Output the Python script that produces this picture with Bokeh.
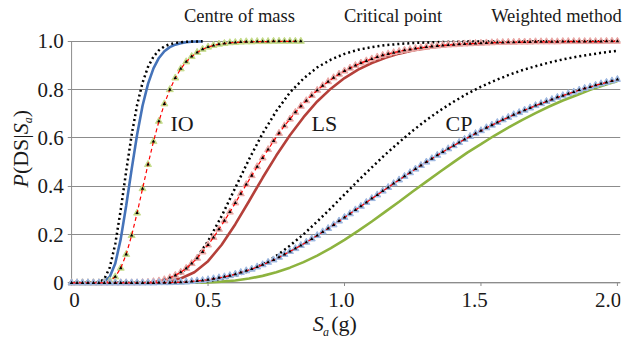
import math
from bokeh.plotting import figure
from bokeh.layouts import column, row
from bokeh.models import Range1d, FixedTicker, Grid, Label, Legend, LegendItem
from bokeh.embed import file_html
from bokeh.resources import INLINE

# ---------------- data ----------------
x_ticks = [0, 0.5, 1.0, 1.5, 2.0]
x_tick_labels = ["0", "0.5", "1.0", "1.5", "2.0"]
y_ticks = [0, 0.2, 0.4, 0.6, 0.8, 1.0]
y_tick_labels = ["0", "0.2", "0.4", "0.6", "0.8", "1.0"]

state_labels = ["IO", "LS", "CP"]
state_label_x = [0.362, 0.879, 1.370]     # left edge of each label (Sa, g)
state_label_y = [0.658, 0.658, 0.658]     # vertical centre (probability)

# Sa sample positions (g)
sa_io = [round(0.02 * i, 2) for i in range(25)]        # 0 .. 0.48
sa_io_w = [round(0.02 * i, 2) for i in range(43)]      # 0 .. 0.84
sa_line = [round(0.05 * i, 2) for i in range(41)]      # 0 .. 2.0
sa_w = [round(0.02 * i, 2) for i in range(101)]        # 0 .. 2.0

# IO
io_centre = [0, 0, 0, 0, 0, 0, 0.005, 0.025, 0.080, 0.181,
             0.319, 0.470, 0.613, 0.733, 0.824, 0.888, 0.931, 0.959, 0.976, 0.986,
             0.992, 0.996, 0.998, 0.999, 0.999]
io_critical = [0, 0, 0, 0, 0, 0.002, 0.016, 0.064, 0.161, 0.302,
               0.462, 0.612, 0.736, 0.829, 0.894, 0.936, 0.963, 0.979, 0.988, 0.993,
               0.996, 0.998, 0.999, 0.999, 1.0]
io_weighted = [0, 0, 0, 0, 0, 0, 0.002, 0.008, 0.025, 0.061,
               0.118, 0.196, 0.289, 0.390, 0.490, 0.585, 0.669, 0.741, 0.800, 0.848,
               0.886, 0.915, 0.937, 0.954, 0.967, 0.976, 0.983, 0.988, 0.991, 0.994,
               0.995, 0.997, 0.998, 0.998, 0.999, 0.999, 0.999, 1.0, 1.0, 1.0,
               1.0, 1.0, 1.0]

# LS
ls_centre = [0, 0, 0, 0, 0, 0, 0.001, 0.006, 0.018, 0.044,
             0.090, 0.158, 0.243, 0.338, 0.435, 0.527, 0.611, 0.686, 0.751, 0.804,
             0.848, 0.883, 0.910, 0.932, 0.949, 0.962, 0.971, 0.979, 0.984, 0.988,
             0.991, 0.994, 0.995, 0.997, 0.997, 0.998, 0.999, 0.999, 0.999, 0.999,
             1.0]
ls_critical = [0, 0, 0, 0, 0, 0, 0.002, 0.012, 0.038, 0.091,
               0.173, 0.277, 0.394, 0.511, 0.619, 0.711, 0.788, 0.846, 0.892, 0.924,
               0.948, 0.965, 0.976, 0.984, 0.989, 0.993, 0.995, 0.997, 0.998, 0.999,
               0.999, 1.0, 1.0, 1.0, 1.0, 1.0, 1.0, 1.0, 1.0, 1.0,
               1.0]
ls_weighted = [0, 0, 0, 0, 0, 0, 0, 0, 0, 0,
               0, 0, 0, 0.001, 0.002, 0.005, 0.008, 0.013, 0.021, 0.031,
               0.044, 0.060, 0.080, 0.102, 0.128, 0.157, 0.188, 0.222, 0.257, 0.293,
               0.331, 0.369, 0.407, 0.444, 0.481, 0.517, 0.552, 0.587, 0.619, 0.650,
               0.678, 0.706, 0.731, 0.754, 0.776, 0.797, 0.816, 0.833, 0.849, 0.864,
               0.877, 0.889, 0.900, 0.910, 0.919, 0.927, 0.935, 0.942, 0.948, 0.953,
               0.958, 0.963, 0.966, 0.970, 0.973, 0.976, 0.979, 0.981, 0.983, 0.985,
               0.986, 0.988, 0.989, 0.990, 0.991, 0.992, 0.993, 0.994, 0.995, 0.995,
               0.996, 0.996, 0.997, 0.997, 0.997, 0.998, 0.998, 0.998, 0.998, 0.998,
               0.999, 0.999, 0.999, 0.999, 0.999, 0.999, 0.999, 0.999, 1.0, 1.0,
               1.0]

# CP
cp_centre = [0, 0, 0, 0, 0, 0, 0, 0, 0.000, 0.001,
             0.002, 0.005, 0.010, 0.018, 0.029, 0.044, 0.063, 0.086, 0.113, 0.144,
             0.178, 0.215, 0.254, 0.295, 0.336, 0.378, 0.419, 0.460, 0.500, 0.539,
             0.574, 0.610, 0.643, 0.674, 0.703, 0.730, 0.755, 0.777, 0.799, 0.818,
             0.836]
cp_critical = [0, 0, 0, 0, 0, 0, 0, 0.000, 0.001, 0.003,
               0.007, 0.016, 0.029, 0.049, 0.077, 0.112, 0.154, 0.201, 0.254, 0.309,
               0.366, 0.423, 0.478, 0.532, 0.582, 0.630, 0.674, 0.714, 0.750, 0.783,
               0.812, 0.837, 0.860, 0.880, 0.897, 0.912, 0.925, 0.936, 0.945, 0.954,
               0.961]
cp_weighted = [0, 0, 0, 0, 0, 0, 0, 0, 0, 0,
               0, 0, 0, 0, 0, 0.000, 0.001, 0.001, 0.001, 0.002,
               0.003, 0.004, 0.006, 0.008, 0.010, 0.013, 0.017, 0.021, 0.025, 0.030,
               0.036, 0.043, 0.050, 0.057, 0.066, 0.075, 0.085, 0.095, 0.106, 0.118,
               0.130, 0.142, 0.155, 0.168, 0.182, 0.196, 0.211, 0.225, 0.240, 0.256,
               0.271, 0.286, 0.302, 0.317, 0.333, 0.349, 0.364, 0.380, 0.395, 0.411,
               0.426, 0.441, 0.456, 0.471, 0.486, 0.500, 0.514, 0.528, 0.542, 0.555,
               0.568, 0.581, 0.594, 0.606, 0.618, 0.630, 0.642, 0.653, 0.664, 0.675,
               0.685, 0.696, 0.705, 0.715, 0.724, 0.734, 0.742, 0.751, 0.759, 0.768,
               0.775, 0.783, 0.790, 0.798, 0.805, 0.811, 0.818, 0.824, 0.830, 0.836,
               0.842]

# ---------------- styling ----------------
FONT = "'Liberation Serif', 'Times New Roman', serif"
TXT = "#1a1a1a"
GRID = "#8c8c8c"
BLUE = "#4573B9"
RED = "#B5403A"
GREEN = "#8DB33F"
DASH_RED = "#FF0000"
HALO = {"IO": "#C5DC8A", "LS": "#EBA8A6", "CP": "#9DB7E0"}
SOLID = dict(line_width=2.6)
DOTTED = dict(line_color="black", line_width=2.5, line_dash="2 3")
DASHED = dict(line_color=DASH_RED, line_width=1.2, line_dash="4 3")
TICK_PX = 21

# geometry (pixels in the 630 x 340 picture)
LEFT_W = 64                                   # width of the left strip
FRAME_L, FRAME_R, FRAME_T, FRAME_B = 67, 620, 28, 286
X_START, X_END = -0.015, 2.0113
Y_START, Y_END = -0.015, 1.053
XS = (FRAME_R - FRAME_L) / (X_END - X_START)          # px per g
YS = (FRAME_B - FRAME_T) / (Y_END - Y_START)          # px per unit probability
X0_PX = FRAME_L - X_START * XS                         # pixel of Sa = 0
Y0_PX = FRAME_B + Y_START * YS                         # pixel of P = 0


def px_to_x(px):
    return (px - X0_PX) / XS


def py_to_y(py):
    return (Y0_PX - py) / YS


def text_w(s, size):
    return sum(0.25 if c == "." else 0.5 for c in s) * size


def blank(width, height, xr, yr):
    f = figure(width=width, height=height, output_backend="svg", toolbar_location=None,
               x_range=Range1d(*xr), y_range=Range1d(*yr),
               x_axis_type=None, y_axis_type=None, min_border=0)
    f.outline_line_color = None
    f.grid.visible = False
    return f


def label(fig, x, y, t, size, style="normal", angle=0.0):
    fig.add_layout(Label(x=x, y=y, text=t, angle=angle, text_font=FONT,
                         text_font_size=f"{size}px", text_font_style=style,
                         text_color=TXT, text_align="left",
                         text_baseline="middle"))


# ---------------- main plot area ----------------
p = figure(width=630 - LEFT_W, height=FRAME_B - FRAME_T,
           output_backend="svg", toolbar_location=None,
           x_range=Range1d(X_START, X_END), y_range=Range1d(Y_START, Y_END),
           x_axis_type=None, y_axis_type=None, min_border=0,
           min_border_left=FRAME_L - LEFT_W, min_border_right=630 - FRAME_R)
p.outline_line_color = None
p.add_layout(Grid(dimension=1, ticker=FixedTicker(ticks=y_ticks),
                  grid_line_color=GRID, grid_line_width=1))
# axis lines and x tick marks
p.segment(x0=[0], y0=[y_ticks[0]], x1=[0], y1=[y_ticks[-1]], line_color=GRID, line_width=1)
p.segment(x0=[x_ticks[0]], y0=[0], x1=[X_END], y1=[0], line_color=GRID, line_width=1)
p.segment(x0=x_ticks, y0=[0] * len(x_ticks), x1=x_ticks, y1=[Y_START] * len(x_ticks),
          line_color=GRID, line_width=1)

for t, x, y in zip(state_labels, state_label_x, state_label_y):
    label(p, x, y, t, 22)

# Centre of mass (solid)
p.line(sa_io, io_centre, line_color=BLUE, **SOLID)
p.line(sa_line, ls_centre, line_color=RED, **SOLID)
p.line(sa_line, cp_centre, line_color=GREEN, **SOLID)

# Critical point (dotted)
p.line(sa_io, io_critical, **DOTTED)
p.line(sa_line, ls_critical, **DOTTED)
p.line(sa_line, cp_critical, **DOTTED)

# Weighted method (red dashed + triangles)
for name, xs, ys in [("IO", sa_io_w, io_weighted), ("LS", sa_w, ls_weighted),
                     ("CP", sa_w, cp_weighted)]:
    p.scatter(xs, ys, marker="triangle", size=7, fill_color=HALO[name],
              line_color=HALO[name])
    p.line(xs, ys, **DASHED)
    p.scatter(xs, ys, marker="triangle", size=3.5, fill_color="black", line_color=None)

# ---------------- legend strip ----------------
lg = blank(630, FRAME_T, (0, 630), (FRAME_T, 0))
lr_c = lg.line([], [], line_color=BLUE, **SOLID)
lr_k = lg.line([], [], **DOTTED)
lr_wh = lg.scatter([], [], marker="triangle", size=7, fill_color=HALO["CP"],
                   line_color=HALO["CP"])
lr_wl = lg.line([], [], **DASHED)
lr_wk = lg.scatter([], [], marker="triangle", size=3.5, fill_color="black", line_color=None)
legend = Legend(items=[
    LegendItem(label="Centre of mass", renderers=[lr_c]),
    LegendItem(label="Critical point", renderers=[lr_k]),
    LegendItem(label="Weighted method", renderers=[lr_wl, lr_wh, lr_wk]),
], orientation="horizontal", location=(143, 1))
legend.label_text_font = FONT
legend.label_text_font_size = "18.5px"
legend.label_text_color = TXT
legend.glyph_width = 39
legend.glyph_height = 20
legend.label_height = 20
legend.label_standoff = 2
legend.spacing = 8
legend.padding = 0
legend.margin = 0
legend.background_fill_alpha = 0
legend.border_line_color = None
lg.add_layout(legend)

# ---------------- left strip: y tick labels + P(DS|S_a) ----------------
ylab = blank(LEFT_W, 340 - FRAME_T, (0, LEFT_W), (py_to_y(340), Y_END))
for t, s in zip(y_ticks, y_tick_labels):
    label(ylab, 63.3 - text_w(s, TICK_PX), t, s, TICK_PX)
A = math.pi / 2
for t, x, py, size, st in [("P", 20, 187, 22, "italic"),
                           ("(DS|", 20, 173.6, 22, "normal"),
                           ("S", 20, 133.8, 22, "italic"),
                           ("a", 27.5, 122.8, 12, "italic"),
                           (")", 20, 116.8, 22, "normal")]:
    label(ylab, x, py_to_y(py), t, size, st, A)

# ---------------- bottom strip: x tick labels + S_a (g) ----------------
xlab = blank(630 - LEFT_W, 340 - FRAME_B, (px_to_x(LEFT_W), px_to_x(630)), (340, FRAME_B))
for t, s in zip(x_ticks, x_tick_labels):
    label(xlab, t - text_w(s, TICK_PX) / 2 / XS, 299, s, TICK_PX)
for t, px, py, size, st in [("S", 315, 323, 22, "italic"),
                            ("a", 325.5, 331, 12, "italic"),
                            ("(g)", 334, 323, 22, "normal")]:
    label(xlab, px_to_x(px), py, t, size, st)

layout = column(lg, row(ylab, column(p, xlab, spacing=0), spacing=0), spacing=0)
open("out.html", "w").write(file_html(layout, INLINE))
